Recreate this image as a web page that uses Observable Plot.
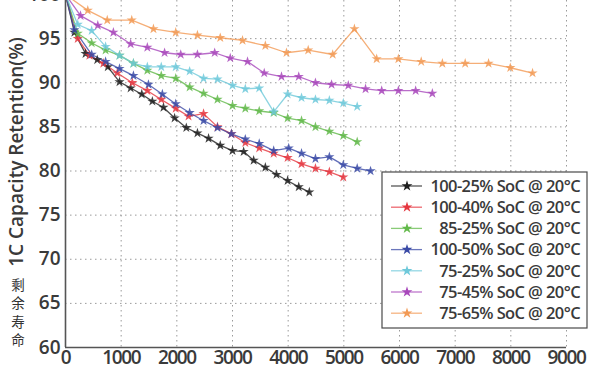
<!DOCTYPE html>
<html>
<head>
<meta charset="utf-8">
<script src="https://cdn.jsdelivr.net/npm/d3@7"></script>
<script src="https://cdn.jsdelivr.net/npm/@observablehq/plot@0.6"></script>
<style>
  html, body { margin: 0; padding: 0; background: #fff; }
  #chart { width: 600px; height: 370px; position: relative; }
  g[aria-label^="x-axis"] text { letter-spacing: -1.4px; }
</style>
</head>
<body>
<div id="chart"></div>
<script>
// ---- data ----
const seriesNames = [
  "100-25% SoC @ 20°C",
  "100-40% SoC @ 20°C",
  "85-25% SoC @ 20°C",
  "100-50% SoC @ 20°C",
  "75-25% SoC @ 20°C",
  "75-45% SoC @ 20°C",
  "75-65% SoC @ 20°C"
];
const seriesColors = ["#1e1e1e", "#e5363f", "#62b94a", "#3a4aa6", "#6fc9da", "#a848bb", "#f29a55"];

const x_100_25 = [0,160,360,570,760,970,1170,1370,1560,1760,1960,2170,2370,2570,2780,3000,3200,3380,3590,3790,3990,4190,4380];
const y_100_25 = [100,95.7,93.3,92.6,91.8,90.1,89.4,88.7,87.9,87.2,86.0,84.9,84.3,83.7,82.9,82.3,82.2,81.2,80.4,79.6,78.9,78.2,77.6];

const x_100_40 = [0,220,430,680,930,1200,1470,1720,1980,2210,2480,2730,2980,3230,3480,3740,3990,4240,4490,4740,4990];
const y_100_40 = [100,95.0,93.1,92.2,91.1,90.0,89.1,88.1,87.1,86.2,86.5,85.0,84.2,83.2,82.6,82.0,81.5,80.8,80.3,79.9,79.3];

const x_85_25 = [0,220,470,720,970,1220,1470,1720,1980,2230,2480,2730,3000,3230,3480,3740,3990,4240,4490,4740,4990,5240];
const y_85_25 = [100,95.6,94.5,93.7,93.1,92.2,91.4,90.8,90.5,89.5,88.8,88.1,87.4,87.1,86.8,86.6,86.0,85.7,85.0,84.5,84.0,83.3];

const x_100_50 = [0,160,470,720,970,1220,1490,1740,1980,2230,2480,2730,2980,3230,3480,3740,4010,4240,4490,4740,4990,5240,5480];
const y_100_50 = [100,96.0,93.2,92.4,91.6,90.8,89.8,88.7,87.6,86.6,85.7,84.9,84.2,83.6,83.1,82.3,82.6,82.0,81.4,81.6,80.7,80.3,80.0];

const x_75_25 = [0,220,470,720,970,1220,1470,1720,1980,2230,2480,2730,3000,3230,3480,3740,3990,4240,4490,4740,4990,5240];
const y_75_25 = [100,96.6,95.9,94.1,93.1,92.2,91.8,91.8,91.8,91.3,90.5,90.4,89.7,89.3,89.4,86.7,88.7,88.3,88.1,88.0,87.7,87.3];

const x_75_45 = [0,270,580,860,1170,1470,1780,2070,2370,2680,2960,3270,3570,3880,4190,4490,4780,5080,5390,5680,5980,6290,6590];
const y_75_45 = [100,97.6,96.5,95.7,94.4,94.0,93.4,93.2,93.2,93.4,92.8,92.4,91.1,90.7,90.7,90.0,89.8,89.7,89.3,89.1,89.1,89.1,88.8];

const x_75_65 = [0,400,750,1190,1580,1980,2370,2780,3180,3590,3970,4360,4800,5190,5590,5980,6390,6770,7180,7600,7990,8390];
const y_75_65 = [100,98.2,97.1,97.1,96.1,95.7,95.4,95.1,94.8,94.2,93.4,93.7,93.2,96.1,92.7,92.7,92.4,92.2,92.2,92.2,91.7,91.1];

const xTicks = [0,1000,2000,3000,4000,5000,6000,7000,8000,9000];
const yTicks = [60,65,70,75,80,85,90,95,100];
const yLabel = "1C Capacity Retention(%)";
const sideNote = ["剩","余","寿","命"];

// ---- build table ----
const xs = [x_100_25, x_100_40, x_85_25, x_100_50, x_75_25, x_75_45, x_75_65];
const ys = [y_100_25, y_100_40, y_85_25, y_100_50, y_75_25, y_75_45, y_75_65];
const rows = [];
seriesNames.forEach((name, i) => {
  xs[i].forEach((xv, j) => rows.push({series: name, cycles: xv, retention: ys[i][j]}));
});

const xDomain = [xTicks[0], xTicks[xTicks.length - 1]];
const yDomain = [yTicks[0], yTicks[yTicks.length - 1]];

const chart = Plot.plot({
  width: 600,
  height: 370,
  marginLeft: 65,
  marginRight: 34,
  marginTop: 0,
  marginBottom: 23,
  style: {fontFamily: "'Open Sans', sans-serif", fontSize: "19px", fontWeight: 600, color: "#3a3a3a", background: "#fff", overflow: "visible"},
  x: {domain: xDomain, ticks: xTicks, tickFormat: d => String(d), tickSize: 0, tickPadding: 3, label: null},
  y: {domain: yDomain, range: [347, -6], ticks: yTicks, tickFormat: d => String(d), tickSize: 0, tickPadding: 5, label: null},
  color: {domain: seriesNames, range: seriesColors},
  marks: [
    Plot.ruleX(xTicks.slice(1), {stroke: "#9a9a9a", strokeWidth: 1, strokeDasharray: "1.5,3.5"}),
    Plot.ruleY(yTicks.slice(1), {stroke: "#9a9a9a", strokeWidth: 1, strokeDasharray: "1.5,3.5"}),
    Plot.line(rows, {x: "cycles", y: "retention", z: "series", stroke: "series", strokeWidth: 1.3, strokeOpacity: 0.8}),
    Plot.dot(rows, {x: "cycles", y: "retention", fill: "series", symbol: "star", r: 3.2, fillOpacity: 0.85}),
    Plot.ruleX([xDomain[0]], {stroke: "#555", strokeWidth: 1.6}),
    Plot.ruleY([yDomain[0]], {stroke: "#555", strokeWidth: 1.6})
  ]
});

const svg = d3.select(chart);

// y-axis title
svg.append("text")
  .attr("transform", "translate(23,152) rotate(-90)")
  .attr("text-anchor", "middle")
  .attr("font-family", "'Open Sans', sans-serif")
  .attr("font-size", 19)
  .attr("font-weight", 600)
  .attr("fill", "#3a3a3a")
  .text(yLabel);

// vertical Chinese note
sideNote.forEach((ch, i) => {
  svg.append("text")
    .attr("x", 18)
    .attr("y", 285 + i * 18.5)
    .attr("dy", "0.35em")
    .attr("text-anchor", "middle")
    .attr("font-family", "'Noto Sans CJK SC', sans-serif")
    .attr("font-size", 13.5)
    .attr("font-weight", 400)
    .attr("fill", "#333")
    .text(ch);
});

// legend
const lg = svg.append("g").attr("transform", "translate(382,172)");
lg.append("rect").attr("width", 205).attr("height", 156)
  .attr("fill", "#fff").attr("stroke", "#4a4a4a").attr("stroke-width", 1.2);
const starPath = d3.symbol(d3.symbolStar, 36)();
seriesNames.forEach((name, i) => {
  const cy = 14 + i * 21.2;
  lg.append("line").attr("x1", 9).attr("x2", 40).attr("y1", cy).attr("y2", cy)
    .attr("stroke", seriesColors[i]).attr("stroke-width", 1.3).attr("stroke-opacity", 0.75);
  lg.append("path").attr("d", starPath).attr("transform", `translate(25,${cy})`)
    .attr("fill", seriesColors[i]);
  lg.append("text").attr("x", 198).attr("y", cy).attr("dy", "0.35em")
    .attr("text-anchor", "end")
    .attr("font-family", "'Open Sans', sans-serif")
    .attr("font-size", 16.5).attr("font-weight", 600)
    .attr("letter-spacing", "-0.6px")
    .attr("fill", "#3a3a3a")
    .text(name);
});

document.getElementById("chart").appendChild(chart);
</script>
</body>
</html>
